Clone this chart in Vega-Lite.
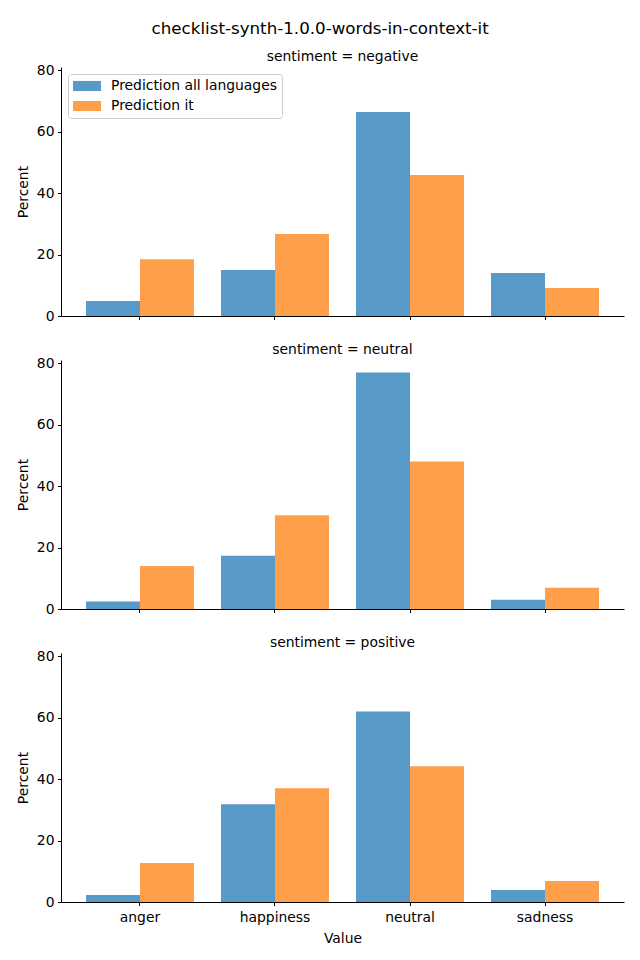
{
  "$schema": "https://vega.github.io/schema/vega-lite/v6.json",
  "padding": {"left": 16, "top": 20, "right": 15, "bottom": 10},
  "title": {"text": "checklist-synth-1.0.0-words-in-context-it", "fontSize": 16.7, "font": "DejaVu Sans", "fontWeight": "normal", "color": "black", "anchor": "middle", "frame": "bounds", "offset": 12},
  "data": {"values": [
    {"sentiment": "negative", "Value": "anger", "series": "Prediction all languages", "Percent": 4.9},
    {"sentiment": "negative", "Value": "anger", "series": "Prediction it", "Percent": 18.5},
    {"sentiment": "negative", "Value": "happiness", "series": "Prediction all languages", "Percent": 15.0},
    {"sentiment": "negative", "Value": "happiness", "series": "Prediction it", "Percent": 26.7},
    {"sentiment": "negative", "Value": "neutral", "series": "Prediction all languages", "Percent": 66.4},
    {"sentiment": "negative", "Value": "neutral", "series": "Prediction it", "Percent": 45.9},
    {"sentiment": "negative", "Value": "sadness", "series": "Prediction all languages", "Percent": 14.0},
    {"sentiment": "negative", "Value": "sadness", "series": "Prediction it", "Percent": 9.1},
    {"sentiment": "neutral", "Value": "anger", "series": "Prediction all languages", "Percent": 2.4},
    {"sentiment": "neutral", "Value": "anger", "series": "Prediction it", "Percent": 14.0},
    {"sentiment": "neutral", "Value": "happiness", "series": "Prediction all languages", "Percent": 17.3},
    {"sentiment": "neutral", "Value": "happiness", "series": "Prediction it", "Percent": 30.5},
    {"sentiment": "neutral", "Value": "neutral", "series": "Prediction all languages", "Percent": 76.9},
    {"sentiment": "neutral", "Value": "neutral", "series": "Prediction it", "Percent": 48.0},
    {"sentiment": "neutral", "Value": "sadness", "series": "Prediction all languages", "Percent": 3.0},
    {"sentiment": "neutral", "Value": "sadness", "series": "Prediction it", "Percent": 6.9},
    {"sentiment": "positive", "Value": "anger", "series": "Prediction all languages", "Percent": 2.3},
    {"sentiment": "positive", "Value": "anger", "series": "Prediction it", "Percent": 12.7},
    {"sentiment": "positive", "Value": "happiness", "series": "Prediction all languages", "Percent": 31.8},
    {"sentiment": "positive", "Value": "happiness", "series": "Prediction it", "Percent": 37.0},
    {"sentiment": "positive", "Value": "neutral", "series": "Prediction all languages", "Percent": 62.0},
    {"sentiment": "positive", "Value": "neutral", "series": "Prediction it", "Percent": 44.2},
    {"sentiment": "positive", "Value": "sadness", "series": "Prediction all languages", "Percent": 3.9},
    {"sentiment": "positive", "Value": "sadness", "series": "Prediction it", "Percent": 6.8}
  ]},
  "config": {
    "view": {"stroke": null},
    "font": "DejaVu Sans",
    "title": {"font": "DejaVu Sans", "fontSize": 13.9, "fontWeight": "normal", "color": "black", "baseline": "alphabetic", "offset": -0.5},
    "axis": {"domainColor": "black", "tickColor": "black", "labelColor": "black", "titleColor": "black", "labelFont": "DejaVu Sans", "titleFont": "DejaVu Sans", "labelFontSize": 13.9, "titleFontSize": 13.9, "titleFontWeight": "normal", "tickSize": 3.5, "labelPadding": 3.5, "grid": false, "domainWidth": 1, "tickWidth": 1},
    "axisX": {"labelAngle": 0, "titlePadding": 8, "labelPadding": 4.5},
    "axisY": {"titlePadding": 6}
  },
  "spacing": 44,
  "bounds": "flush",
  "resolve": {"scale": {"color": "independent"}, "legend": {"color": "independent"}},
  "vconcat": [
    {
      "title": "sentiment = negative",
      "width": 563, "height": 249,
      "transform": [{"filter": "datum.sentiment == 'negative'"}],
      "mark": {"type": "bar"},
      "encoding": {
        "x": {"field": "Value", "type": "nominal", "scale": {"paddingInner": 0.2, "paddingOuter": 0.185}, "axis": {"labels": false, "title": null}},
        "xOffset": {"field": "series", "type": "nominal", "scale": {"paddingInner": 0, "paddingOuter": 0}},
        "y": {"field": "Percent", "type": "quantitative", "scale": {"domain": [0, 81]}, "axis": {"values": [0, 20, 40, 60, 80], "title": "Percent"}},
        "color": {"field": "series", "type": "nominal", "scale": {"domain": ["Prediction all languages", "Prediction it"], "range": ["#5799c7", "#ff9f4a"]},
          "legend": {"title": null, "orient": "none", "legendX": 7, "legendY": 7, "padding": 5, "fillColor": "white", "strokeColor": "#cccccc", "cornerRadius": 3, "symbolType": "M-2,-0.72H2V0.72H-2Z", "symbolSize": 196, "symbolOffset": 7, "symbolStrokeWidth": 0, "symbolOpacity": 1, "labelFontSize": 13.9, "labelFont": "DejaVu Sans", "labelColor": "black", "labelLimit": 0, "rowPadding": 6, "labelOffset": 17}}
      }
    },
    {
      "title": "sentiment = neutral",
      "width": 563, "height": 249,
      "transform": [{"filter": "datum.sentiment == 'neutral'"}],
      "mark": {"type": "bar"},
      "encoding": {
        "x": {"field": "Value", "type": "nominal", "scale": {"paddingInner": 0.2, "paddingOuter": 0.185}, "axis": {"labels": false, "title": null}},
        "xOffset": {"field": "series", "type": "nominal", "scale": {"paddingInner": 0, "paddingOuter": 0}},
        "y": {"field": "Percent", "type": "quantitative", "scale": {"domain": [0, 81]}, "axis": {"values": [0, 20, 40, 60, 80], "title": "Percent"}},
        "color": {"field": "series", "type": "nominal", "scale": {"domain": ["Prediction all languages", "Prediction it"], "range": ["#5799c7", "#ff9f4a"]}, "legend": null}
      }
    },
    {
      "title": "sentiment = positive",
      "width": 563, "height": 249,
      "transform": [{"filter": "datum.sentiment == 'positive'"}],
      "mark": {"type": "bar"},
      "encoding": {
        "x": {"field": "Value", "type": "nominal", "scale": {"paddingInner": 0.2, "paddingOuter": 0.185}, "axis": {"title": "Value"}},
        "xOffset": {"field": "series", "type": "nominal", "scale": {"paddingInner": 0, "paddingOuter": 0}},
        "y": {"field": "Percent", "type": "quantitative", "scale": {"domain": [0, 81]}, "axis": {"values": [0, 20, 40, 60, 80], "title": "Percent"}},
        "color": {"field": "series", "type": "nominal", "scale": {"domain": ["Prediction all languages", "Prediction it"], "range": ["#5799c7", "#ff9f4a"]}, "legend": null}
      }
    }
  ]
}
